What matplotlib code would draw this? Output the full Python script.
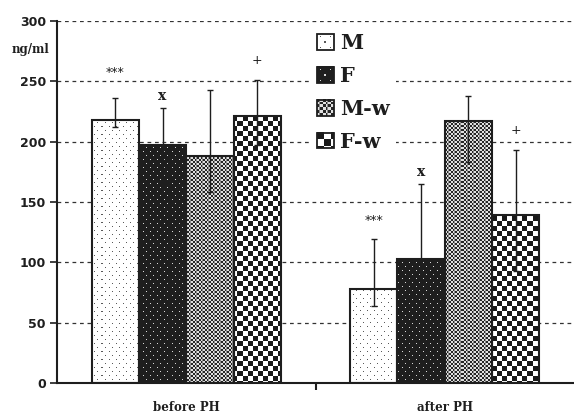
import numpy as np
import matplotlib.pyplot as plt
from matplotlib.patches import Rectangle, Patch

groups = ['before PH', 'after PH']
series = ['M', 'F', 'M-w', 'F-w']
means = {'M': [218, 78], 'F': [197, 103], 'M-w': [188, 217], 'F-w': [221, 139]}
err_lo = {'M': [6, 14], 'F': [31, 62], 'M-w': [30, 34], 'F-w': [24, 46]}
err_hi = {'M': [18, 41], 'F': [31, 62], 'M-w': [55, 21], 'F-w': [30, 54]}
marks = {'M': '***', 'F': 'x', 'M-w': '', 'F-w': '+'}
mark_y = {'M': [257, 135], 'F': [238, 175], 'M-w': [0, 0], 'F-w': [267, 209]}
yticks = [0, 50, 100, 150, 200, 250, 300]

DARK = '#1e1e1e'


def texture(kind, h, w):
    r, c = np.mgrid[0:h, 0:w]
    img = np.ones((h, w, 3))
    dots = ((r % 8 == 2) & (c % 7 == 2)) | ((r % 8 == 6) & (c % 7 == 5))
    if kind == 'M':
        img[dots] = 0.35
    elif kind == 'F':
        img[:] = 0.12
        img[dots] = 0.85
    elif kind == 'M-w':
        chk = ((r // 2 + c // 2) % 2) == 0
        img[:] = 0.88
        img[chk] = 0.15
        img[(c % 6 == 1)] = 0.55
    else:
        chk = ((r // 5 + c // 5) % 2) == 0
        img[chk] = 0.1
    return img


class TexHandler:
    def __init__(self, kind):
        self.kind = kind

    def legend_artist(self, legend, orig_handle, fontsize, handlebox):
        x0, y0 = -handlebox.xdescent, -handlebox.ydescent
        w, h = handlebox.width, handlebox.height
        n = 12
        tex = texture(self.kind, n, n)
        s = w / n
        for i in range(n):
            for j in range(n):
                handlebox.add_artist(Rectangle((x0 + j * s, y0 + (n - 1 - i) * s), s, s,
                                               facecolor=tex[i, j], edgecolor='none'))
        border = Rectangle((x0, y0), w, h, facecolor='none', edgecolor=DARK, lw=1.3)
        handlebox.add_artist(border)
        return border


fig = plt.figure(figsize=(5.74, 4.16), dpi=100)
ax = fig.add_axes([57 / 574, 1 - 383 / 416, 1 - 57 / 574, 362 / 416])

xlim = (-0.5, 1.5)
ylim = (0, 300)
ax.set_xlim(*xlim)
ax.set_ylim(*ylim)

bw = 0.183
x = np.arange(len(groups))
axw, axh = 517, 362
for k, s in enumerate(series):
    pos = x + (k - 1.5) * bw
    bars = ax.bar(pos, means[s], bw, facecolor='none', edgecolor=DARK, linewidth=1.5, zorder=3)
    tex = texture(s, axh, axw)
    for b in bars:
        im = ax.imshow(tex, extent=(xlim[0], xlim[1], ylim[0], ylim[1]), aspect='auto',
                       interpolation='nearest', zorder=2)
        im.set_clip_path(b)
    ax.errorbar(pos, means[s], yerr=[err_lo[s], err_hi[s]], fmt='none', ecolor=DARK,
                elinewidth=1, capsize=2.5, capthick=1, zorder=4)
    if marks[s]:
        for xi, yi in zip(pos, mark_y[s]):
            if marks[s] == 'x':
                ax.text(xi, yi, 'x', ha='center', va='center', fontsize=10,
                        family='DejaVu Serif', fontweight='bold', color=DARK, zorder=5)
            else:
                ax.text(xi, yi, marks[s], ha='center', va='center', fontsize=9,
                        color=DARK, zorder=5)

ax.set_xlim(*xlim)
ax.set_ylim(*ylim)

ax.yaxis.grid(True, linestyle=(0, (3, 3)), color='#333333', linewidth=0.9)
ax.set_axisbelow(True)
for sp in ['top', 'right']:
    ax.spines[sp].set_visible(False)
for sp in ['left', 'bottom']:
    ax.spines[sp].set_color(DARK)
    ax.spines[sp].set_linewidth(1.5)

ax.set_yticks(yticks)
ax.set_yticklabels([str(v) for v in yticks], fontsize=9, fontweight='bold', color=DARK)
ax.tick_params(axis='y', length=5, width=1.2, color=DARK, pad=3)
ax.set_xticks(x)
ax.set_xticklabels(groups, fontsize=8.5, family='DejaVu Serif', fontweight='bold', color=DARK)
ax.tick_params(axis='x', which='major', length=0, pad=13)
ax.set_xticks([0.5], minor=True)
ax.tick_params(axis='x', which='minor', length=5, width=1.5, color=DARK)

fig.text(30 / 574, 1 - 50 / 416, 'ng/ml', ha='center', va='center', fontsize=8.5,
         family='DejaVu Serif', fontweight='bold', color=DARK)

handles = [Patch(label=s) for s in series]
leg = ax.legend(handles, series, handler_map={h: TexHandler(s) for h, s in zip(handles, series)},
                loc='upper left', bbox_to_anchor=(0.471, 1.013), frameon=True, framealpha=1,
                edgecolor='none', facecolor='white', fancybox=False,
                prop={'family': 'DejaVu Serif', 'weight': 'bold', 'size': 15},
                handlelength=0.8, handleheight=0.8, handletextpad=0.3, labelspacing=0.62,
                borderpad=0.3)
for t in leg.get_texts():
    t.set_color(DARK)
leg.set_zorder(6)

fig.savefig('out.png', dpi=100)
